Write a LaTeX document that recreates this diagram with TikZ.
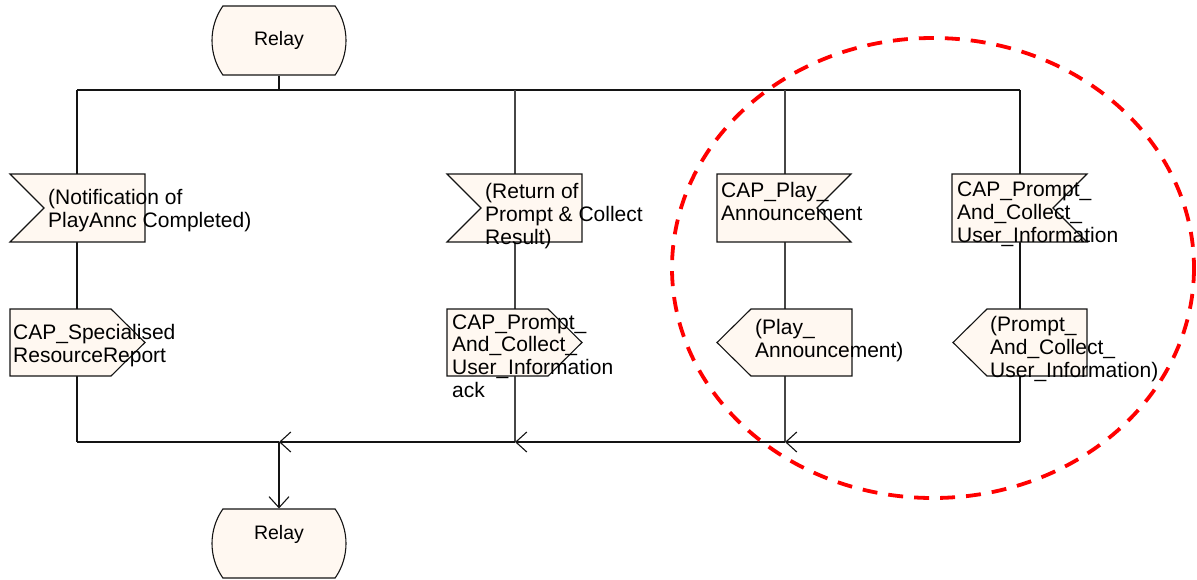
\documentclass[tikz,border=0pt]{standalone}
\usepackage{fontspec}
\setmainfont{Liberation Sans}
\usetikzlibrary{arrows.meta,shapes.misc,calc}
\definecolor{boxfill}{RGB}{255,248,241}
\definecolor{linecol}{RGB}{20,20,20}
\definecolor{vlinecol}{RGB}{70,70,70}
\tikzset{
  bus/.style={draw=linecol,line width=1.2pt},
  vbus/.style={draw=vlinecol,line width=1.2pt},
  sigbox/.style={draw=linecol,fill=boxfill,line width=1.1pt,line join=miter},
  relay/.style={rounded rectangle,rounded rectangle arc length=70,draw=linecol,fill=boxfill,
    line width=1.1pt,minimum width=134pt,minimum height=69pt,inner sep=0pt,
    font=\fontsize{19.5}{22}\selectfont},
  lbl/.style={anchor=base west,inner sep=0pt,align=left,
    font=\fontsize{21}{22.6}\selectfont},
  barb/.style={-{Straight Barb[length=11pt,width=20pt,line width=1.1pt]}},
  ring/.style={draw=red,line width=3.8pt,dash pattern=on 15pt off 11pt}
}
\begin{document}
\begin{tikzpicture}[x=1pt,y=-1pt]
\useasboundingbox (0,0) rectangle (1197,579);
% relays
\node[relay] (r1) at (279,40.5) {Relay};
\node[relay] (r2) at (279,543.5) {};
\node[font=\fontsize{19.5}{22}\selectfont,inner sep=0pt] (r2t) at (279,534) {Relay};
% junction coordinates
\coordinate (t0) at (279,90);
\coordinate (ta) at (77,90);
\coordinate (tb) at (515,90);
\coordinate (tc) at (785,90);
\coordinate (td) at (1020,90);
\coordinate (ba) at (77,442);
\coordinate (bb) at (515,442);
\coordinate (bc) at (785,442);
\coordinate (bd) at (1020,442);
\coordinate (b0) at (279,442);
% lines
\draw[bus] (r1.south) -- (t0);
\draw[bus] (ta) -- (td);
\draw[bus] (ta) -- (ba);
\draw[vbus] (tb) -- (bb);
\draw[vbus] (tc) -- (bc);
\draw[bus] (td) -- (bd);
\draw[bus,barb] (bd) -- (bc);
\draw[bus,barb] (bc) -- (bb);
\draw[bus,barb] (bb) -- (b0);
\draw[bus] (ba) -- (b0);
\draw[bus,barb] (b0) -- (r2.north);
% signal boxes
\draw[sigbox] (10,174) -- (145,174) -- (145,242) -- (10,242) -- (44,208) -- cycle;
\draw[sigbox] (10,309) -- (111,309) -- (145,342.5) -- (111,376) -- (10,376) -- cycle;
\draw[sigbox] (447,174) -- (582,174) -- (582,242) -- (447,242) -- (481,208) -- cycle;
\draw[sigbox] (447,309) -- (548,309) -- (582,342.5) -- (548,376) -- (447,376) -- cycle;
\draw[sigbox] (717,174) -- (851,174) -- (817,208) -- (851,242) -- (717,242) -- cycle;
\draw[sigbox] (717,342.5) -- (751,309) -- (852,309) -- (852,376) -- (751,376) -- cycle;
\draw[sigbox] (952,174) -- (1087,174) -- (1053,208) -- (1087,242) -- (952,242) -- cycle;
\draw[sigbox] (953,342.5) -- (987,309) -- (1087,309) -- (1087,376) -- (987,376) -- cycle;
% labels (anchored at the baseline of the last line)
\node[lbl] (s1) at (48,227) {(Notification of\\PlayAnnc Completed)};
\node[lbl] (s2) at (13,362) {CAP\_Specialised\\ResourceReport};
\node[lbl] (s3) at (485,244) {(Return of\\Prompt \& Collect\\Result)};
\node[lbl] (s4) at (452,397) {CAP\_Prompt\_\\And\_Collect\_\\User\_Information\\ack};
\node[lbl] (s5) at (721,220) {CAP\_Play\_\\Announcement};
\node[lbl] (s6) at (755,357) {(Play\_\\Announcement)};
\node[lbl] (s7) at (957,242) {CAP\_Prompt\_\\And\_Collect\_\\User\_Information};
\node[lbl] (s8) at (990,377) {(Prompt\_\\And\_Collect\_\\User\_Information)};
% highlight
\draw[ring] (933,268) ellipse [x radius=261, y radius=230];
\end{tikzpicture}
\end{document}
